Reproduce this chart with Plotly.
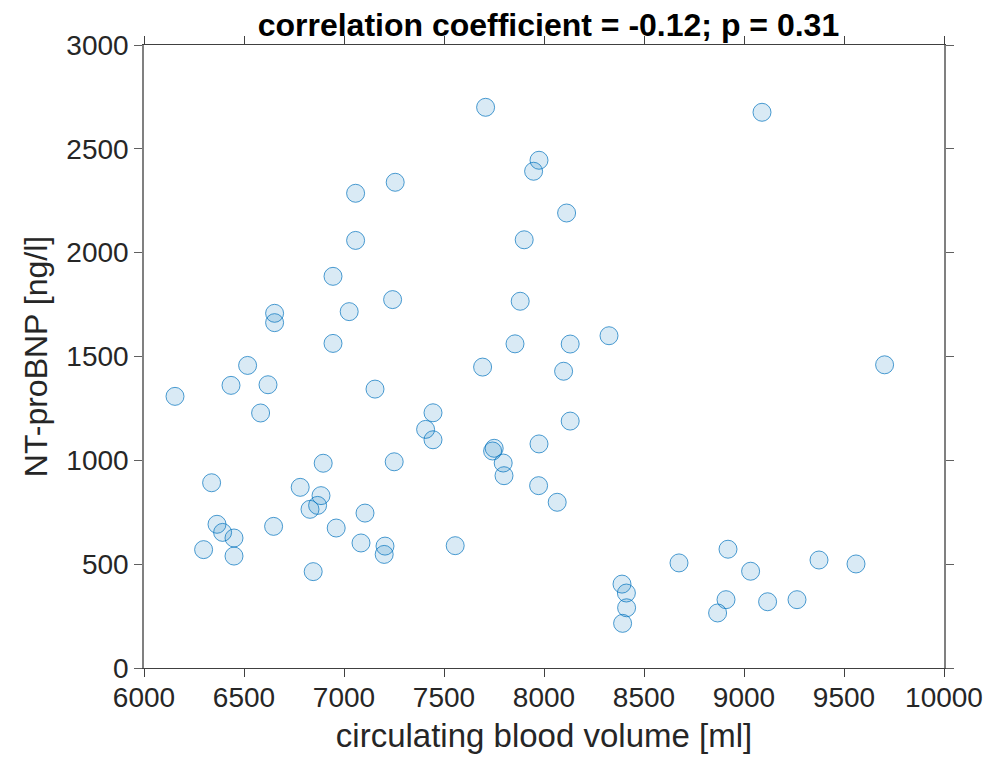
import plotly.graph_objects as go

# circulating blood volume [ml]
blood_volume = [
    6155, 6435, 6518, 6620, 6583, 6653, 6653, 6945, 7026, 6945,
    7243, 7155, 7058, 7256, 7058, 7881, 7855, 7693, 8098, 7445,
    7408, 7445, 7751, 7743, 7796, 7800, 7975, 7973, 8066, 6896,
    7251, 6338, 6781, 6885, 6868, 6830, 7105, 6365, 6393, 6450,
    6298, 6450, 6648, 6961, 7085, 7205, 7201, 7556, 6846, 7708,
    9090, 7975, 7948, 8113, 7901, 8131, 8325, 9703, 8131, 8390,
    8412, 8413, 8393, 8675, 8920, 9033, 9375, 9560, 8910, 8868,
    9118, 9265,
]
# NT-proBNP [ng/l]
nt_probnp = [
    1308, 1361, 1457, 1364, 1228, 1708, 1663, 1563, 1716, 1886,
    1774, 1343, 2286, 2339, 2059, 1766, 1561, 1449, 1429, 1229,
    1149, 1099, 1058, 1045, 987, 926, 1079, 878, 798, 986,
    993, 892, 870, 830, 783, 764, 746, 692, 653, 626,
    570, 539, 682, 674, 602, 587, 547, 589, 464, 2700,
    2676, 2445, 2392, 2191, 2062, 1560, 1600, 1460, 1189, 404,
    361, 290, 215, 506, 572, 466, 520, 501, 329, 265,
    319, 329,
]

x_ticks = [6000, 6500, 7000, 7500, 8000, 8500, 9000, 9500, 10000]
y_ticks = [0, 500, 1000, 1500, 2000, 2500, 3000]

title_text = "correlation coefficient = -0.12; p = 0.31"
x_title = "circulating blood volume [ml]"
y_title = "NT-proBNP [ng/l]"

FONT = "Liberation Sans, Arial, Helvetica, sans-serif"
TXT = "#262626"

fig = go.Figure()
fig.add_trace(go.Scatter(
    x=blood_volume, y=nt_probnp, mode="markers",
    marker=dict(symbol="circle", size=18,
                color="rgba(0,114,189,0.15)",
                line=dict(color="rgba(0,114,189,0.7)", width=1)),
    showlegend=False, hoverinfo="x+y",
))

# page body has an 8px default margin; figure sized to fit the 1004x758 window
fig.update_layout(
    width=996, height=750,
    margin=dict(l=136, r=60, t=37, b=90),
    paper_bgcolor="white", plot_bgcolor="white",
    font=dict(family=FONT, color=TXT, size=28),
    title=dict(text="<b>" + title_text + "</b>", x=0.5426, xanchor="center",
               y=0.977, yanchor="middle", yref="container",
               font=dict(family=FONT, size=32, color="black")),
)
fig.update_xaxes(
    range=[6000, 10000], tickvals=x_ticks, ticktext=[str(v) for v in x_ticks],
    showgrid=False, zeroline=False, automargin=False,
    showline=True, linecolor="#404040", linewidth=1, mirror="ticks",
    ticks="outside", ticklen=8, tickwidth=1, tickcolor="#404040",
    tickfont=dict(size=28, color=TXT), ticklabelstandoff=-4,
    title=dict(text=x_title, font=dict(size=33, color=TXT), standoff=12),
)
fig.update_yaxes(
    range=[0, 3000], tickvals=y_ticks, ticktext=[str(v) for v in y_ticks],
    showgrid=False, zeroline=False, automargin=False,
    showline=True, linecolor="#808080", linewidth=1.5, mirror="ticks",
    ticks="outside", ticklen=8, tickwidth=1, tickcolor="#606060",
    tickfont=dict(size=28, color=TXT),
    title=dict(text=y_title, font=dict(size=32, color=TXT), standoff=9),
)

fig.write_html("out.html")
